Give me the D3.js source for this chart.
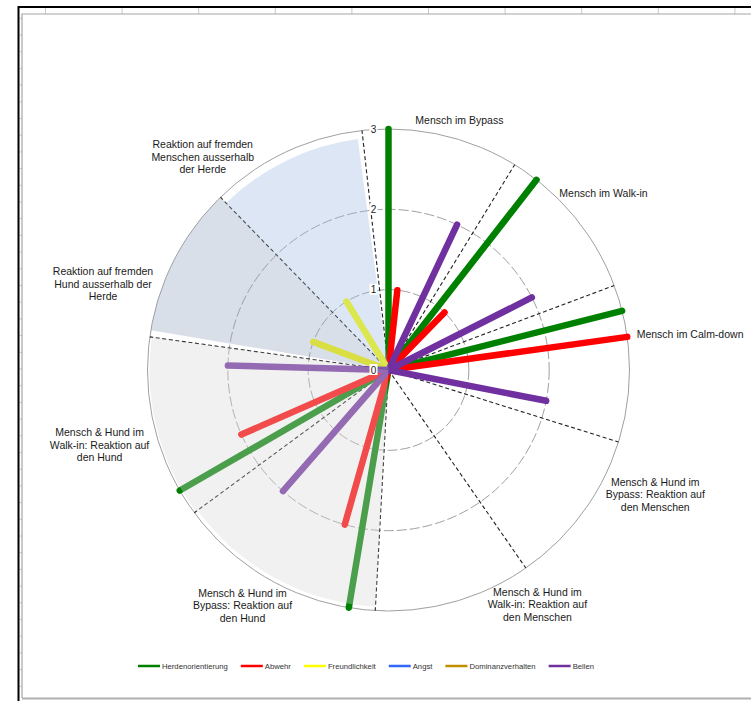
<!DOCTYPE html>
<html>
<head>
<meta charset="utf-8">
<script src="https://cdn.jsdelivr.net/npm/d3@7"></script>
<style>
    html, body { margin: 0; padding: 0; background: #fff; }
    svg { display: block; font-family: "Liberation Sans", Arial, sans-serif; }
</style>
</head>
<body>
<svg id="chart" width="751" height="701"></svg>
<script>
// radar with 57 angular positions, position 0 at 12 o'clock
var slotCount = 57;
var sectorNames = [
    ["Mensch im Bypass"],
    ["Mensch im Walk-in"],
    ["Mensch im Calm-down"],
    ["Mensch & Hund im", "Bypass: Reaktion auf", "den Menschen"],
    ["Mensch & Hund im", "Walk-in: Reaktion auf", "den Menschen"],
    ["Mensch & Hund im", "Bypass: Reaktion auf", "den Hund"],
    ["Mensch & Hund im", "Walk-in: Reaktion auf", "den Hund"],
    ["Reaktion auf fremden", "Hund ausserhalb der", "Herde"],
    ["Reaktion auf fremden", "Menschen ausserhalb", "der Herde"]
];
// position of the dashed line closing each sector
var separatorSlots = [5, 11, 17, 23, 29, 37, 44, 50, 56];
var ticks = [0, 1, 2, 3];
var seriesNames = ["Herdenorientierung", "Abwehr", "Freundlichkeit", "Angst", "Dominanzverhalten", "Bellen"];
// [position, value]
var herdenorientierung = [[0, 3], [6, 3], [12, 3], [30, 3], [38, 3]];
var abwehr = [[1, 1], [7, 1], [13, 3], [31, 2], [39, 2]];
var freundlichkeit = [[46, 1], [52, 1]];
var angst = [];
var dominanzverhalten = [];
var bellen = [[4, 2], [10, 2], [16, 2], [35, 2], [43, 2]];
// shaded sectors (index into sectorNames)
var shadedSectors = [5, 6, 7, 8];

var seriesData = [herdenorientierung, abwehr, freundlichkeit, angst, dominanzverhalten, bellen];
var seriesColors = ["#008000", "#ff0000", "#ffff00", "#3366ff", "#bf8f00", "#7030a0"];

// layout
var cx = 388.5, cy = 370, R = 241;
var labelSlots = [2.2, 7.4, 13, 18.6, 23.8, 33.1, 40.2, 45.7, 51];
var shadeStyle = {
    5: { fill: "rgb(216,216,216)", r: 237, a0: 0, a1: 0 },
    6: { fill: "rgb(216,216,216)", r: 239, a0: 0, a1: 0 },
    7: { fill: "rgb(146,164,189)", r: 241, a0: 0.25, a1: 0 },
    8: { fill: "rgb(155,184,224)", r: 233, a0: 0, a1: -0.2 }
};

var svg = d3.select("#chart");

// spreadsheet frame
var frame = svg.append("g");
frame.selectAll("line.col").data(d3.range(45.5, 751, 76.6)).enter().append("line")
    .attr("x1", function (d) { return d; }).attr("x2", function (d) { return d; })
    .attr("y1", 8).attr("y2", 14).attr("stroke", "#c8c8c8");
frame.selectAll("line.row").data(d3.range(18.3, 698, 16.7)).enter().append("line")
    .attr("x1", 19.5).attr("x2", 22).attr("y1", function (d) { return d; }).attr("y2", function (d) { return d; })
    .attr("stroke", "#c8c8c8");
frame.append("path").attr("d", "M22,698V14H751").attr("fill", "none").attr("stroke", "#a6a6a6").attr("stroke-width", 1.2);
frame.append("line").attr("x1", 22).attr("x2", 751).attr("y1", 698.5).attr("y2", 698.5)
    .attr("stroke", "#b0b0b0").attr("stroke-width", 2);
frame.append("path").attr("d", "M18.5,701V7H751").attr("fill", "none").attr("stroke", "#000").attr("stroke-width", 2);

var angle = d3.scaleLinear().domain([0, slotCount]).range([0, 2 * Math.PI]);
var radius = d3.scaleLinear().domain([0, 3]).range([0, R]);

var plot = svg.append("g").attr("transform", "translate(" + cx + "," + cy + ")");

// rings
plot.selectAll("circle.ring").data(ticks.filter(function (t) { return t > 0; })).enter().append("circle")
    .attr("r", function (d) { return radius(d); })
    .attr("fill", "none")
    .attr("stroke", "#a0a0a0")
    .attr("stroke-width", 1)
    .attr("stroke-dasharray", function (d) { return d < 3 ? "10,3" : null; });

var spoke = d3.lineRadial()
    .angle(function (d) { return angle(d[0]); })
    .radius(function (d) { return radius(d[1]); });

// sector separators
plot.selectAll("path.sep").data(separatorSlots).enter().append("path")
    .attr("d", function (d) { return spoke([[d, 0], [d, 3]]); })
    .attr("stroke", "#222")
    .attr("stroke-width", 1.1)
    .attr("stroke-dasharray", "4,2.6")
    .attr("fill", "none");

// series spokes
seriesData.forEach(function (s, i) {
    plot.append("g").selectAll("path").data(s).enter().append("path")
        .attr("d", function (d) { return spoke([[d[0], 0], [d[0], d[1]]]); })
        .attr("stroke", seriesColors[i])
        .attr("stroke-width", 6.5)
        .attr("stroke-linecap", "round")
        .attr("fill", "none");
});

// shaded sectors, drawn translucent over the spokes
var sectorStart = function (i) { return i === 0 ? separatorSlots[separatorSlots.length - 1] - slotCount : separatorSlots[i - 1]; };
var arc = d3.arc().innerRadius(0);
plot.selectAll("path.shade").data(shadedSectors).enter().append("path")
    .attr("d", function (i) {
        var st = shadeStyle[i];
        return arc({
            outerRadius: st.r,
            startAngle: angle(sectorStart(i) + st.a0),
            endAngle: angle(separatorSlots[i] + st.a1)
        });
    })
    .attr("fill", function (i) { return shadeStyle[i].fill; })
    .attr("fill-opacity", 0.35);

// radial axis labels
var tickG = plot.selectAll("g.tick").data(ticks).enter().append("g")
    .attr("transform", function (d) { return "translate(-15," + (-radius(d)) + ")"; });
tickG.append("rect").attr("x", -4).attr("y", -6).attr("width", 8).attr("height", 11).attr("fill", "#fff");
tickG.append("text").attr("text-anchor", "middle").attr("dy", "0.35em")
    .attr("font-size", "10px").attr("fill", "#222")
    .text(function (d) { return d; });

// category labels
var lineH = 12.5;
sectorNames.forEach(function (lines, i) {
    var th = angle(labelSlots[i]);
    var t = plot.append("text").attr("font-size", "10.5px").attr("fill", "#1a1a1a").attr("text-anchor", "middle");
    lines.forEach(function (l, k) {
        t.append("tspan").attr("x", 0).attr("y", (k - (lines.length - 1) / 2) * lineH).attr("dy", "0.35em").text(l);
    });
    var w = t.node().getBBox().width, h = lines.length * lineH;
    var px = (R + 10) * Math.sin(th) + w / 2 * Math.sin(th);
    var py = -(R + 10) * Math.cos(th) - h / 2 * Math.cos(th);
    t.attr("transform", "translate(" + px + "," + py + ")");
});

// legend
var legend = svg.append("g").attr("transform", "translate(0,666)");
var items = legend.selectAll("g").data(seriesNames).enter().append("g");
items.append("line").attr("x1", 0).attr("x2", 22).attr("y1", 0).attr("y2", 0)
    .attr("stroke", function (d, i) { return seriesColors[i]; }).attr("stroke-width", 2.5);
items.append("text").attr("x", 24).attr("dy", "0.35em").attr("font-size", "7.7px").attr("fill", "#333")
    .text(function (d) { return d; });
var xs = [], x = 0;
items.each(function () {
    xs.push(x);
    x += 24 + d3.select(this).select("text").node().getComputedTextLength() + 13;
});
var total = x - 13, x0 = 366 - total / 2;
items.attr("transform", function (d, i) { return "translate(" + (x0 + xs[i]) + ",0)"; });
</script>
</body>
</html>
